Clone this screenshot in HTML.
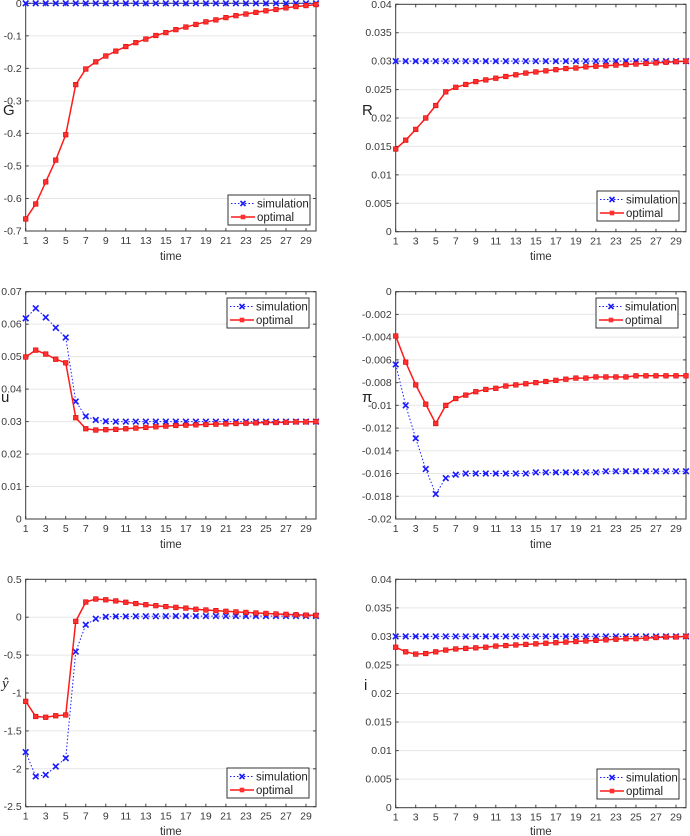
<!DOCTYPE html>
<html><head><meta charset="utf-8"><style>
html,body{margin:0;padding:0;background:#fff;}
svg{display:block;font-family:"Liberation Sans",sans-serif;}
</style></head><body>
<svg id="fig" width="690" height="836" viewBox="0 0 690 836" xmlns="http://www.w3.org/2000/svg"></svg>
<script>
const times = Array.from({length:30},(_,i)=>i+1);
const xTickLabels = [1,3,5,7,9,11,13,15,17,19,21,23,25,27,29];
const seriesNames = ["simulation","optimal"];

const gSim = [0,0,0,0,0,0,0,0,0,0,0,0,0,0,0,0,0,0,0,0,0,0,0,0,0,0,0,0,0,0];
const gOpt = [-0.663,-0.617,-0.549,-0.482,-0.404,-0.25,-0.202,-0.18,-0.162,-0.147,-0.133,-0.121,-0.11,-0.099,-0.09,-0.081,-0.073,-0.065,-0.057,-0.051,-0.044,-0.038,-0.033,-0.028,-0.023,-0.019,-0.014,-0.01,-0.007,-0.004];
const gTicks = ["0","-0.1","-0.2","-0.3","-0.4","-0.5","-0.6","-0.7"];

const rSim = [0.03,0.03,0.03,0.03,0.03,0.03,0.03,0.03,0.03,0.03,0.03,0.03,0.03,0.03,0.03,0.03,0.03,0.03,0.03,0.03,0.03,0.03,0.03,0.03,0.03,0.03,0.03,0.03,0.03,0.03];
const rOpt = [0.01455,0.0161,0.018,0.02,0.0222,0.0246,0.0254,0.0259,0.0264,0.0267,0.027,0.0273,0.0276,0.0279,0.0281,0.0283,0.0285,0.0287,0.0288,0.029,0.0291,0.0292,0.0293,0.0294,0.0295,0.0296,0.0297,0.0298,0.0299,0.03];
const rTicks = ["0.04","0.035","0.03","0.025","0.02","0.015","0.01","0.005","0"];

const uSim = [0.0618,0.0649,0.0621,0.0589,0.0559,0.0362,0.0316,0.0305,0.0301,0.03,0.03,0.03,0.03,0.03,0.03,0.03,0.03,0.03,0.03,0.03,0.03,0.03,0.03,0.03,0.03,0.03,0.03,0.03,0.03,0.03];
const uOpt = [0.0499,0.052,0.0508,0.0492,0.0481,0.0312,0.0278,0.0274,0.0275,0.0276,0.0278,0.028,0.0282,0.0284,0.0286,0.0288,0.0289,0.029,0.0291,0.0292,0.0293,0.0294,0.0295,0.0296,0.0297,0.0297,0.0298,0.0299,0.0299,0.03];
const uTicks = ["0.07","0.06","0.05","0.04","0.03","0.02","0.01","0"];

const piSim = [-0.0064,-0.01,-0.0129,-0.0156,-0.0178,-0.0164,-0.0161,-0.016,-0.016,-0.016,-0.016,-0.016,-0.016,-0.016,-0.0159,-0.0159,-0.0159,-0.0159,-0.0159,-0.0159,-0.0159,-0.0158,-0.0158,-0.0158,-0.0158,-0.0158,-0.0158,-0.0158,-0.0158,-0.0158];
const piOpt = [-0.0039,-0.0062,-0.0082,-0.0099,-0.0116,-0.01,-0.0094,-0.0091,-0.0088,-0.0086,-0.0085,-0.0083,-0.0082,-0.0081,-0.008,-0.0079,-0.0078,-0.0077,-0.0076,-0.0076,-0.0075,-0.0075,-0.0075,-0.0075,-0.0074,-0.0074,-0.0074,-0.0074,-0.0074,-0.0074];
const piTicks = ["0","-0.002","-0.004","-0.006","-0.008","-0.01","-0.012","-0.014","-0.016","-0.018","-0.02"];

const ySim = [-1.78,-2.1,-2.08,-1.97,-1.86,-0.455,-0.1,-0.02,0.005,0.01,0.01,0.012,0.012,0.013,0.014,0.015,0.015,0.015,0.015,0.015,0.015,0.015,0.015,0.015,0.015,0.015,0.015,0.015,0.015,0.015];
const yOpt = [-1.11,-1.31,-1.32,-1.3,-1.29,-0.055,0.2,0.24,0.23,0.215,0.197,0.18,0.165,0.152,0.14,0.13,0.12,0.105,0.095,0.087,0.078,0.07,0.063,0.056,0.05,0.043,0.038,0.033,0.028,0.025];
const yTicks = ["0.5","0","-0.5","-1","-1.5","-2","-2.5"];

const iSim = [0.03,0.03,0.03,0.03,0.03,0.03,0.03,0.03,0.03,0.03,0.03,0.03,0.03,0.03,0.03,0.03,0.03,0.03,0.03,0.03,0.03,0.03,0.03,0.03,0.03,0.03,0.03,0.03,0.03,0.03];
const iOpt = [0.0281,0.0273,0.0269,0.027,0.0273,0.0276,0.0278,0.0279,0.028,0.0281,0.0283,0.0284,0.0285,0.0286,0.0287,0.0288,0.0289,0.029,0.0291,0.0292,0.0293,0.0294,0.0295,0.0296,0.0296,0.0297,0.0298,0.0299,0.0299,0.03];
const iTicks = ["0.04","0.035","0.03","0.025","0.02","0.015","0.01","0.005","0"];

const NS="http://www.w3.org/2000/svg";
const fig=document.getElementById('fig');
function mk(tag,attrs,parent){const e=document.createElementNS(NS,tag);for(const k in attrs)e.setAttribute(k,attrs[k]);(parent||fig).appendChild(e);return e;}

const panels=[
 {id:"g",L:25.7,R:316,T:3.3,B:231,ymax:0,ymin:-0.7,ticks:gTicks,sim:gSim,opt:gOpt,lab:"G",lx:3,ly:115,leg:[228,195],tl:260},
 {id:"r",L:395.7,R:686,T:4.3,B:231.7,ymax:0.04,ymin:0,ticks:rTicks,sim:rSim,opt:rOpt,lab:"R",lx:362,ly:115,leg:[597,191],tl:260},
 {id:"u",L:25.7,R:316,T:291.7,B:519,ymax:0.07,ymin:0,ticks:uTicks,sim:uSim,opt:uOpt,lab:"u",lx:1,ly:402,leg:[227,298],tl:548},
 {id:"pi",L:395.7,R:686,T:291.7,B:519,ymax:0,ymin:-0.02,ticks:piTicks,sim:piSim,opt:piOpt,lab:"π",lx:362,ly:402,leg:[596,298],tl:548},
 {id:"yhat",L:25.7,R:316,T:579.3,B:806.7,ymax:0.5,ymin:-2.5,ticks:yTicks,sim:ySim,opt:yOpt,lab:"ŷ",lx:2,ly:688,leg:[227,768],tl:835},
 {id:"i",L:395.7,R:686,T:579.3,B:807.7,ymax:0.04,ymin:0,ticks:iTicks,sim:iSim,opt:iOpt,lab:"i",lx:364,ly:690,leg:[597,769],tl:835}
];

panels.forEach(p=>{
 const g=mk('g',{});
 
 
 const xs=t=>p.L+(t-1)*(p.R-p.L)/29;
 const ys=v=>p.T+(p.ymax-v)*(p.B-p.T)/(p.ymax-p.ymin);
 const n=p.ticks.length;
 p.ticks.forEach((lbl,k)=>{
  const yy=p.T+k*(p.B-p.T)/(n-1);
  if(k>0&&k<n-1){const gl=mk('line',{x1:p.L,x2:p.R,y1:yy,y2:yy,stroke:'#e6e6e6','stroke-width':1},g);
   }
  mk('line',{x1:p.L,x2:p.L+3,y1:yy,y2:yy,stroke:'#444'},g);
  mk('line',{x1:p.R,x2:p.R-3,y1:yy,y2:yy,stroke:'#444'},g);
  const t=mk('text',{x:p.L-4,y:yy+3.5,'text-anchor':'end','font-size':10.5,fill:'#3a3a3a'},g);
  t.textContent=lbl;
  
 });
 xTickLabels.forEach(v=>{
  const xx=xs(v);
  mk('line',{x1:xx,x2:xx,y1:p.B,y2:p.B-3,stroke:'#444'},g);
  mk('line',{x1:xx,x2:xx,y1:p.T,y2:p.T+3,stroke:'#444'},g);
  const t=mk('text',{x:xx,y:p.B+13,'text-anchor':'middle','font-size':10.5,fill:'#3a3a3a'},g);
  t.textContent=v;
  
 });
 const box=mk('rect',{x:p.L,y:p.T,width:p.R-p.L,height:p.B-p.T,fill:'none',stroke:'#3a3a3a','stroke-width':1},g);
 
 const xl=mk('text',{x:(p.L+p.R)/2,y:p.tl,'text-anchor':'middle','font-size':11.5,fill:'#333'},g);
 xl.textContent='time';
 
 const yl=mk('text',{x:p.lx,y:p.ly,'font-size':15,fill:'#222','font-family':p.lab==='ŷ'?'Liberation Serif,serif':'Liberation Sans,sans-serif','font-style':p.lab==='ŷ'?'italic':'normal'},g);
 yl.textContent=p.lab;
 
 const sp=mk('polyline',{points:p.sim.map((v,k)=>xs(times[k])+','+ys(v)).join(' '),fill:'none',stroke:'#1a1aff','stroke-width':1,'stroke-dasharray':'1.5,2'},g);
 
 p.sim.forEach((v,k)=>{
  const cx=xs(times[k]),cy=ys(v);
  const m=mk('path',{d:`M${cx-2.8},${cy-2.8}L${cx+2.8},${cy+2.8}M${cx-2.8},${cy+2.8}L${cx+2.8},${cy-2.8}`,stroke:'#1a1aff','stroke-width':1.6},g);
  
 });
 const op=mk('polyline',{points:p.opt.map((v,k)=>xs(times[k])+','+ys(v)).join(' '),fill:'none',stroke:'#ff1a1a','stroke-width':1.5},g);
 
 p.opt.forEach((v,k)=>{
  const m=mk('rect',{x:xs(times[k])-2.3,y:ys(v)-2.3,width:4.6,height:4.6,fill:'#ff3030',stroke:'#e00000','stroke-width':0.6},g);
  
 });
 const [lx,ly]=p.leg;
 const lg=mk('g',{},g);
 
 mk('rect',{x:lx,y:ly,width:82,height:30,fill:'#fff',stroke:'#333','stroke-width':1},lg);
 mk('line',{x1:lx+3,x2:lx+27,y1:ly+8.5,y2:ly+8.5,stroke:'#1a1aff','stroke-dasharray':'1.5,2'},lg);
 mk('path',{d:`M${lx+12.5},${ly+6}L${lx+17.5},${ly+11}M${lx+12.5},${ly+11}L${lx+17.5},${ly+6}`,stroke:'#1a1aff','stroke-width':1.6},lg);
 mk('line',{x1:lx+3,x2:lx+27,y1:ly+22,y2:ly+22,stroke:'#ff1a1a','stroke-width':1.5},lg);
 mk('rect',{x:lx+12.7,y:ly+19.7,width:4.6,height:4.6,fill:'#ff3030'},lg);
 const t1=mk('text',{x:lx+29,y:ly+12.5,'font-size':11.5,fill:'#222'},lg);
 t1.textContent=seriesNames[0];
 
 const t2=mk('text',{x:lx+29,y:ly+26,'font-size':11.5,fill:'#222'},lg);
 t2.textContent=seriesNames[1];
 
});
</script>
</body></html>
